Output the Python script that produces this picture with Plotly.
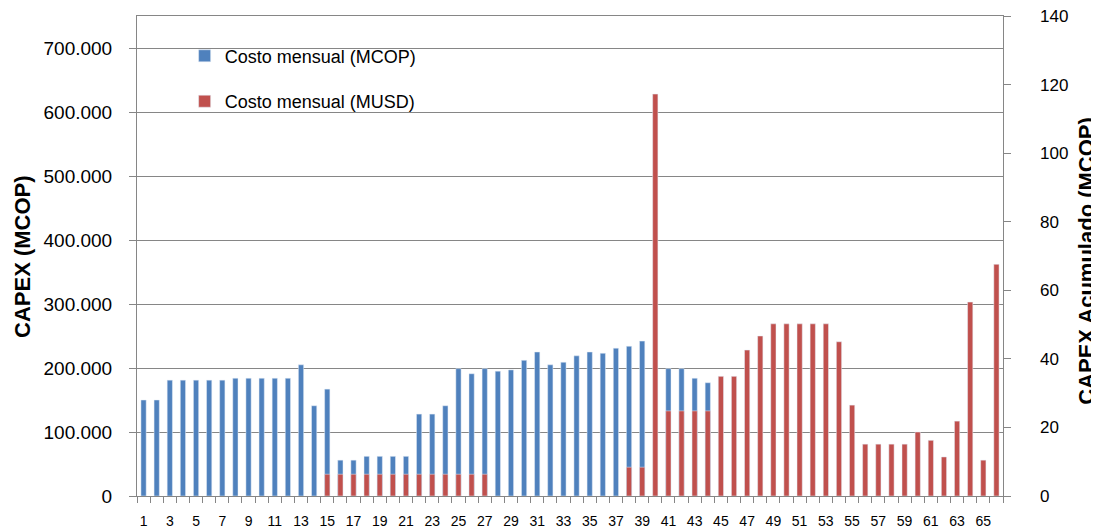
import plotly.graph_objects as go

months = list(range(1, 67))

costo_mcop = [150, 150, 181, 181, 181, 181, 181, 184, 184, 184, 184, 184, 205, 141, 167,
              56, 56, 62, 62, 62, 62, 128, 128, 141, 199, 191, 199, 195, 197, 212,
              225, 205, 209, 219, 225, 223, 231, 234, 242, None, 199, 199, 184, 177,
              None, None, None, None, None, None, None, None, None, None, None, None,
              None, None, None, None, None, None, None, None, None, None]

costo_musd = [None] * 14 + [34] * 13 + [None] * 10 + [45, 45, 628, 133, 133, 133, 133,
              187, 187, 228, 250, 269, 269, 269, 269, 269, 241, 142, 81, 81, 81, 81,
              100, 87, 61, 117, 303, 56, 362]

tick_labels = [str(m) for m in months if m % 2 == 1]
right_ticks = [0, 20, 40, 60, 80, 100, 120, 140]

scale = 1000
blue_y = [v * scale if v is not None else None for v in costo_mcop]
red_y = [v * scale if v is not None else None for v in costo_musd]

BLUE = "#4F81BD"
RED = "#C0504D"
GRID = "#868686"
FONT = "Liberation Sans"

fig = go.Figure()
fig.add_trace(go.Bar(x=months, y=blue_y, name="Costo mensual (MCOP)", marker_color=BLUE,
                     width=0.4, legendgroup="a"))
fig.add_trace(go.Bar(x=months, y=red_y, name="Costo mensual (MUSD)", marker_color=RED,
                     width=0.4, legendgroup="b"))
fig.add_trace(go.Scatter(x=[1], y=[0], yaxis="y2", mode="markers", opacity=0,
                         showlegend=False, hoverinfo="skip"))

# page body has an 8px default margin, so the figure is offset by 8px
fig.update_layout(
    width=1091, height=523,
    margin=dict(l=129, r=96, t=8, b=35, autoexpand=False),
    paper_bgcolor="white", plot_bgcolor="white",
    barmode="overlay",
    separators=",.",
    font=dict(family=FONT, color="#000000"),
    showlegend=True,
    legend=dict(x=0.055, y=0.955, xanchor="left", yanchor="top",
                font=dict(family=FONT, size=18, color="#000000"),
                tracegroupgap=19, bgcolor="rgba(0,0,0,0)"),
    xaxis=dict(range=[0.5, 66.5], tickmode="array", automargin=False,
               tickvals=[m for m in months if m % 2 == 1], ticktext=tick_labels,
               ticks="", showgrid=False, zeroline=False,
               showline=True, linecolor=GRID, linewidth=1, mirror=True,
               ticklabelstandoff=12,
               tickfont=dict(family=FONT, size=14, color="#000000"),
               minor=dict(tick0=0.5, dtick=1, ticks="outside", ticklen=6,
                          tickcolor=GRID, showgrid=False)),
    yaxis=dict(range=[0, 750000], tickmode="array", automargin=False,
               tickvals=[0, 100000, 200000, 300000, 400000, 500000, 600000, 700000],
               tickformat=",.0f", ticks="outside", ticklen=7, tickcolor=GRID,
               showgrid=True, gridcolor=GRID, gridwidth=1, zeroline=False,
               showline=True, linecolor=GRID, linewidth=1,
               ticklabelstandoff=13,
               tickfont=dict(family=FONT, size=19, color="#000000")),
    yaxis2=dict(range=[0, 140.01], overlaying="y", side="right", tickmode="array",
                tickvals=right_ticks, ticktext=["\u00a0" + str(t) for t in right_ticks],
                automargin=False, ticklabeloverflow="allow",
                ticks="outside", ticklen=7, tickcolor=GRID,
                showgrid=False, zeroline=False,
                showline=True, linecolor=GRID, linewidth=1,
                ticklabelstandoff=21,
                tickfont=dict(family=FONT, size=17, color="#000000")),
    annotations=[
        dict(text="<b>CAPEX (MCOP)</b>", xref="paper", yref="paper", x=-0.1328, y=0.5,
             textangle=-90, showarrow=False, xanchor="center", yanchor="middle",
             font=dict(family=FONT, size=22, color="#000000")),
        dict(text="<b>CAPEX Acumulado (MCOP)</b>", xref="paper", yref="paper", x=1.097, y=0.49,
             textangle=-90, showarrow=False, xanchor="center", yanchor="middle",
             font=dict(family=FONT, size=22, color="#000000")),
    ],
)

fig.write_html("out.html")
